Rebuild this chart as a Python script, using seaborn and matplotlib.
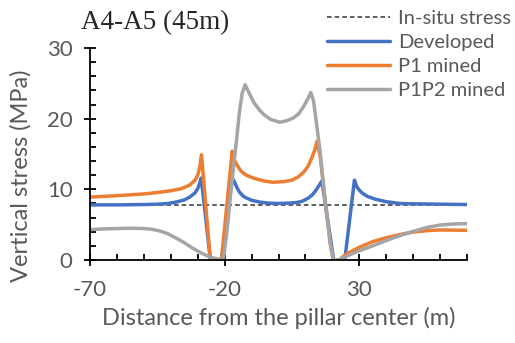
import numpy as np
import pandas as pd
import matplotlib
matplotlib.use("Agg")
import matplotlib.pyplot as plt
from matplotlib.ticker import MultipleLocator
import seaborn as sns

sns.set_style("white")
plt.rcParams['font.family'] = ['Lato', 'DejaVu Sans']
plt.rcParams['axes.unicode_minus'] = False

# in-situ stress level (MPa)
insitu_x = [-70, 70]
insitu_y = [7.8, 7.8]

# Developed
dev_x = [-70, -60, -50, -45, -41, -38, -35, -33, -31, -30, -29.3, -28.7,
         -25.3, -21.2, -17.2, -16.3, -15.5, -14.5, -13, -11.5, -10, -7, -4, 0,
         4, 7, 9, 11, 12.5, 13.8, 14.8, 15.5, 16.1, 20.5, 24.6, 28.2, 29,
         30, 31, 33, 36, 40, 45, 50, 60, 70]
dev_y = [7.8, 7.8, 7.85, 7.9, 8.0, 8.2, 8.5, 8.9, 9.5, 10.1, 10.8, 11.6,
         0.0, 0.0, 11.6, 11.0, 10.3, 9.6, 9.0, 8.7, 8.45, 8.2, 8.05, 8.0,
         8.05, 8.15, 8.35, 8.75, 9.2, 9.8, 10.4, 10.8, 11.2, 0.0, 0.0, 11.3, 10.4,
         9.9, 9.5, 9.0, 8.6, 8.25, 8.0, 7.95, 7.9, 7.85]

# P1 mined
p1_x = [-70, -60, -50, -45, -40, -36, -33, -31, -30, -29.2, -28.6,
        -25.3, -21.2, -17.2, -16.5, -15.5, -14, -12, -9, -5, -2, 2, 5, 7.5,
        9.5, 11, 12.5, 13.5, 14.3, 15.5, 17.4, 19.2, 20.3, 22.5, 25, 30, 35,
        40, 45, 50, 55, 60, 70]
p1_y = [8.9, 9.1, 9.35, 9.55, 9.8, 10.1, 10.6, 11.3, 12.0, 13.2, 14.9,
        0.0, 0.0, 15.4, 14.2, 13.5, 12.6, 12.0, 11.55, 11.15, 11.0, 11.1, 11.3, 11.8,
        12.5, 13.3, 14.6, 15.6, 16.8, 14.6, 8.1, 2.4, 0.0, 0.0, 0.8, 1.8, 2.6,
        3.15, 3.6, 3.95, 4.15, 4.25, 4.2]

# P1P2 mined
p12_x = [-70, -65, -60, -55, -50, -47, -44, -41, -38, -35, -32, -28.5,
         -25, -22, -20.5, -19, -18, -16.5, -15.5, -14.5, -13.5, -12.4, -10.5,
         -9, -7, -5.5, -3, 0.5, 3, 5.5, 7.5, 9.3, 11, 12, 13, 13.6, 15.5, 17.4,
         19.2, 20.3, 22.5, 25, 30, 35, 40, 45, 50, 55, 60, 65, 70]
p12_y = [4.3, 4.4, 4.45, 4.5, 4.45, 4.35, 4.1, 3.7, 3.1, 2.45, 1.7, 0.95,
         0.35, 0.1, 0.05, 4.5, 8.5, 13.8, 17.3, 21.0, 23.6, 24.8, 23.3,
         22.2, 21.2, 20.6, 19.9, 19.5, 19.7, 20.1, 20.7, 21.7, 22.9, 23.7, 22.5, 20.8, 15.2, 8.1,
         2.4, 0.05, 0.0, 0.5, 1.3, 2.0, 2.75, 3.45, 4.05, 4.6, 4.95, 5.1, 5.15]

fig = plt.figure(figsize=(5.15, 3.43), dpi=100)
ax = fig.add_axes([0.1748, 0.242, 0.732, 0.618])

sns.lineplot(x=insitu_x, y=insitu_y, ax=ax, color='#303030', linewidth=1.1,
             linestyle=(0, (3, 2)), label='In-situ stress')
sns.lineplot(x=dev_x, y=dev_y, ax=ax, color='#4472C4', linewidth=2.5, label='Developed')
sns.lineplot(x=p1_x, y=p1_y, ax=ax, color='#ED7D31', linewidth=2.5, label='P1 mined')
sns.lineplot(x=p12_x, y=p12_y, ax=ax, color='#A5A5A5', linewidth=2.5, label='P1P2 mined')

ax.set_xlim(-70, 70)
ax.set_ylim(0, 30)
ax.xaxis.set_major_locator(MultipleLocator(50))
ax.xaxis.set_minor_locator(MultipleLocator(10))
ax.yaxis.set_major_locator(MultipleLocator(10))
ax.yaxis.set_minor_locator(MultipleLocator(2))
ax.set_xticks([-70, -20, 30])

for s in ['top', 'right']:
    ax.spines[s].set_visible(False)
for s in ['left', 'bottom']:
    ax.spines[s].set_color('black')
    ax.spines[s].set_linewidth(1.3)

ax.tick_params(which='major', direction='inout', length=9, width=1.3, color='black',
               labelsize=16, labelcolor='#595959', pad=8)
ax.tick_params(axis='x', which='major', pad=10)
ax.tick_params(which='minor', direction='in', length=4, width=1.3, color='black')
ax.tick_params(axis='x', which='both', bottom=True)
ax.tick_params(axis='y', which='both', left=True)

ax.set_xlabel('Distance from the pillar center (m)', fontsize=17, color='#595959', labelpad=5)
ax.set_ylabel('Vertical stress (MPa)', fontsize=17, color='#595959')
ax.yaxis.set_label_coords(-0.155, 0.396)

fig.text(0.157, 0.934, 'A4-A5 (45m)', fontsize=19.5, va='center', ha='left',
         family=['Liberation Serif'])

leg = ax.legend(loc='upper left', bbox_to_anchor=(0.632, 0.978), bbox_transform=fig.transFigure,
                frameon=False, fontsize=14.5, handlelength=3.1, labelspacing=0.35,
                handletextpad=0.4, borderpad=0.1, borderaxespad=0)
for t in leg.get_texts():
    t.set_color('#595959')

fig.savefig('out.png', dpi=100)
